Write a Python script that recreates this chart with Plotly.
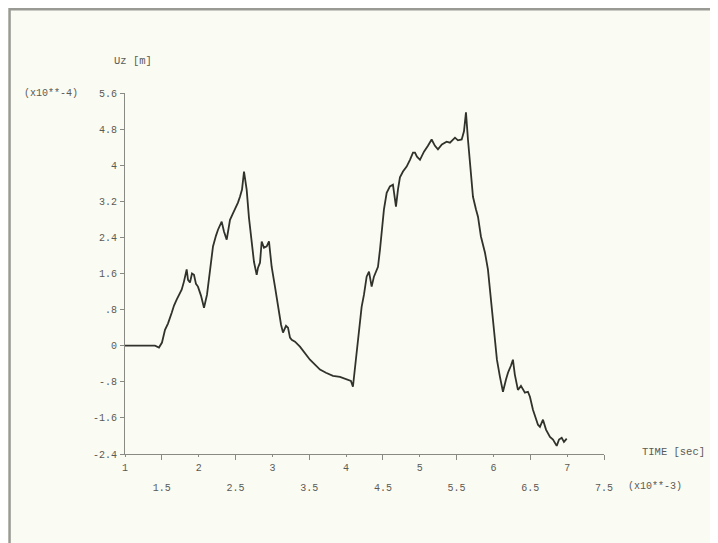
import plotly.graph_objects as go

# time in units of 1e-3 s, displacement Uz in units of 1e-4 m
time_ms = [1.0, 1.407, 1.461, 1.502, 1.543, 1.583, 1.634, 1.665, 1.701, 1.733, 1.769, 1.80,
           1.837, 1.855, 1.882, 1.909, 1.936, 1.963, 1.99, 2.031, 2.072, 2.113, 2.153, 2.194,
           2.235, 2.262, 2.312, 2.343, 2.38, 2.425, 2.465, 2.493, 2.533, 2.56, 2.588, 2.615,
           2.651, 2.682, 2.719, 2.75, 2.787, 2.805, 2.832, 2.855, 2.886, 2.923, 2.954, 2.99,
           3.035, 3.076, 3.117, 3.144, 3.185, 3.212, 3.239, 3.262, 3.307, 3.374, 3.442, 3.51,
           3.578, 3.646, 3.727, 3.822, 3.917, 4.012, 4.066, 4.093, 4.144, 4.175, 4.211, 4.243,
           4.279, 4.311, 4.347, 4.378, 4.433, 4.46, 4.483, 4.514, 4.551, 4.595, 4.636, 4.677,
           4.704, 4.731, 4.772, 4.822, 4.867, 4.908, 4.935, 4.962, 5.003, 5.057, 5.111, 5.161,
           5.206, 5.247, 5.30, 5.365, 5.41, 5.478, 5.518, 5.569, 5.60, 5.627, 5.654, 5.695,
           5.722, 5.763, 5.79, 5.83, 5.885, 5.925, 5.953, 5.993, 6.02, 6.047, 6.088, 6.129,
           6.17, 6.197, 6.238, 6.264, 6.29, 6.332, 6.373, 6.427, 6.468, 6.495, 6.536, 6.563,
           6.604, 6.631, 6.672, 6.713, 6.767, 6.808, 6.858, 6.89, 6.926, 6.957, 6.994]
uz = [0.0, 0.0, -0.04, 0.07, 0.35, 0.49, 0.73, 0.89, 1.02, 1.11, 1.24, 1.42,
      1.69, 1.46, 1.40, 1.60, 1.57, 1.37, 1.31, 1.11, 0.84, 1.13, 1.62, 2.20,
      2.44, 2.57, 2.75, 2.53, 2.35, 2.79, 2.93, 3.02, 3.17, 3.30, 3.46, 3.86,
      3.46, 2.84, 2.28, 1.86, 1.57, 1.73, 1.84, 2.31, 2.17, 2.20, 2.31, 1.75,
      1.31, 0.86, 0.47, 0.29, 0.44, 0.40, 0.18, 0.13, 0.09, -0.02, -0.16, -0.31,
      -0.42, -0.53, -0.60, -0.67, -0.69, -0.75, -0.78, -0.91, -0.16, 0.35, 0.86, 1.13,
      1.53, 1.64, 1.31, 1.53, 1.75, 2.13, 2.57, 3.02, 3.39, 3.53, 3.57, 3.08,
      3.46, 3.73, 3.86, 3.97, 4.12, 4.28, 4.28, 4.19, 4.12, 4.30, 4.43, 4.57,
      4.43, 4.35, 4.46, 4.52, 4.50, 4.61, 4.55, 4.57, 4.75, 5.17, 4.57, 3.79,
      3.30, 3.02, 2.86, 2.42, 2.06, 1.69, 1.24, 0.62, 0.13, -0.31, -0.69, -1.02,
      -0.75, -0.60, -0.44, -0.31, -0.64, -0.98, -0.89, -1.04, -1.02, -1.13, -1.42, -1.57,
      -1.75, -1.80, -1.64, -1.86, -2.02, -2.08, -2.22, -2.08, -2.04, -2.13, -2.06]

y_ticks = [5.6, 4.8, 4.0, 3.2, 2.4, 1.6, 0.8, 0.0, -0.8, -1.6, -2.4]
y_tick_text = ["5.6", "4.8", "4", "3.2", "2.4", "1.6", ".8", "0", "-.8", "-1.6", "-2.4"]
x_int_ticks = [1, 2, 3, 4, 5, 6, 7]
x_int_text = ["1", "2", "3", "4", "5", "6", "7"]
x_half_ticks = [1.5, 2.5, 3.5, 4.5, 5.5, 6.5, 7.5]
x_half_text = ["1.5", "2.5", "3.5", "4.5", "5.5", "6.5", "7.5"]

FONT = "Liberation Mono, Courier New, monospace"
TXT = "#5a5a55"
AX = "#8a8a85"
BG = "#fafbf2"

fig = go.Figure()
fig.add_trace(go.Scatter(x=time_ms, y=uz, mode="lines",
                         line=dict(color="#30332c", width=1.8),
                         hoverinfo="skip", showlegend=False))
# invisible trace to activate second x axis
fig.add_trace(go.Scatter(x=[1, 7.5], y=[None, None], xaxis="x2", mode="lines",
                         showlegend=False, hoverinfo="skip"))

fig.update_layout(
    width=718, height=543,
    margin=dict(l=117, r=122, t=85, b=97),
    paper_bgcolor=BG, plot_bgcolor=BG,
    font=dict(family=FONT, size=10, color=TXT),
    xaxis=dict(range=[1, 7.5], tickmode="array", tickvals=x_int_ticks, ticktext=x_int_text,
               ticks="outside", ticklen=2, tickcolor=AX, showgrid=False, zeroline=False,
               showline=True, linecolor=AX, linewidth=1.2, ticklabelstandoff=2,
               tickfont=dict(family=FONT, size=10, color=TXT)),
    xaxis2=dict(range=[1, 7.5], overlaying="x", side="bottom", anchor="y", tickmode="array",
                tickvals=x_half_ticks, ticktext=x_half_text, ticks="outside", ticklen=5,
                tickcolor=AX, showgrid=False, zeroline=False, showline=False,
                ticklabelstandoff=19, tickfont=dict(family=FONT, size=10, color=TXT)),
    yaxis=dict(range=[-2.4, 5.6], tickmode="array", tickvals=y_ticks, ticktext=y_tick_text,
               ticks="outside", ticklen=4, tickcolor=AX, showgrid=False, zeroline=False,
               showline=True, linecolor=AX, linewidth=1.2, ticklabelstandoff=1,
               tickfont=dict(family=FONT, size=10, color=TXT)),
)

fig.add_annotation(text="Uz [m]", xref="paper", yref="paper", x=-0.027, y=1.09,
                   xanchor="left", yanchor="middle", showarrow=False,
                   font=dict(family=FONT, size=10.5, color=TXT))
fig.add_annotation(text="(x10**-4)", xref="paper", yref="paper", x=-0.215, y=1.0,
                   xanchor="left", yanchor="middle", showarrow=False,
                   font=dict(family=FONT, size=10, color=TXT))
fig.add_annotation(text="TIME [sec]", xref="paper", yref="paper", x=1.075, y=0.005,
                   xanchor="left", yanchor="middle", showarrow=False,
                   font=dict(family=FONT, size=10.5, color=TXT))
fig.add_annotation(text="(x10**-3)", xref="paper", yref="paper", x=1.045, y=-0.09,
                   xanchor="left", yanchor="middle", showarrow=False,
                   font=dict(family=FONT, size=10, color=TXT))

# outer frame of the page
fig.add_shape(type="rect", xref="paper", yref="paper", x0=-0.241, x1=1.3, y0=-0.3, y1=1.232,
              line=dict(color="#9a9a95", width=2.5), fillcolor="rgba(0,0,0,0)", layer="below")

fig.write_html("out.html")
